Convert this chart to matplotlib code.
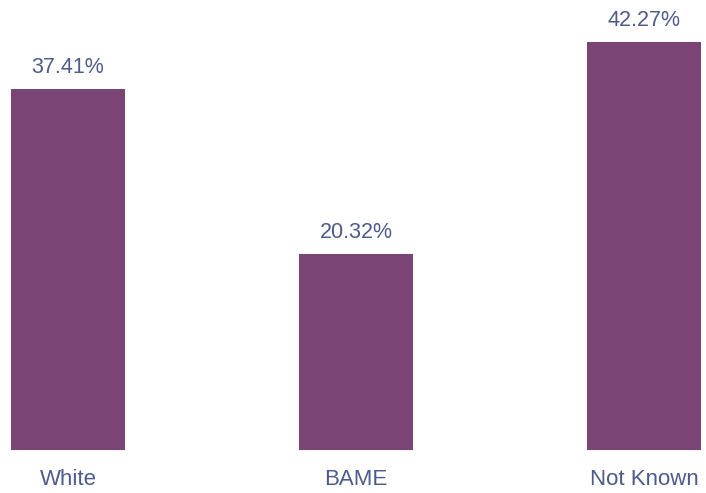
import matplotlib.pyplot as plt

plt.rcParams['font.family'] = ['Liberation Sans', 'DejaVu Sans']

groups = ["White", "BAME", "Not Known"]
shares = [37.41, 20.32, 42.27]

bar_color = "#7a4474"
text_color = "#4d5b8c"

fig = plt.figure(figsize=(7.06, 4.93), dpi=100)
# axes bottom sits on the bar baseline, labels hang below it
ax = fig.add_axes([0, 43 / 493, 1, 450 / 493])

x = range(len(groups))
bars = ax.bar(x, shares, width=0.396, color=bar_color)

for b, v in zip(bars, shares):
    ax.annotate("{:.2f}%".format(v), (b.get_x() + b.get_width() / 2, v),
                xytext=(0, 11.5), textcoords="offset points",
                ha="center", va="baseline", fontsize=15.5, color=text_color)

ax.set_xlim(-0.236, 2.215)
ax.set_ylim(0, 46.63)
ax.set_xticks(list(x))
ax.set_xticklabels(groups, fontsize=16, color=text_color)
ax.tick_params(axis="x", length=0, pad=13.5)
ax.set_yticks([])
for s in ax.spines.values():
    s.set_visible(False)

fig.savefig("out.png", dpi=100)
